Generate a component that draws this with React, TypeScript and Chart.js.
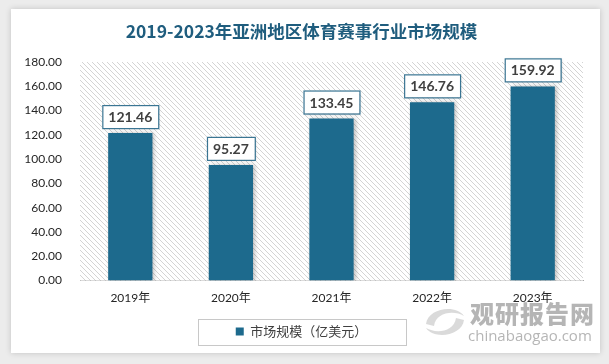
import React, { useEffect, useRef } from "react";
import { Chart, registerables } from "chart.js";

Chart.register(...registerables);

const chartTitle = "2019-2023年亚洲地区体育赛事行业市场规模";
const categories = ["2019年", "2020年", "2021年", "2022年", "2023年"];
const seriesLabel = "市场规模（亿美元）";
const marketSize = [121.46, 95.27, 133.45, 146.76, 159.92];
const yMin = 0;
const yMax = 180;
const yStep = 20;

const BAR_COLOR = "#1d6a8d";
const TITLE_COLOR = "#1f5d7e";
const TEXT_COLOR = "#404040";
const FONT = "Lato, 'Noto Sans CJK SC', sans-serif";

function makeHatch(): CanvasPattern | string {
  const c = document.createElement("canvas");
  const s = 5;
  c.width = s;
  c.height = s;
  const g = c.getContext("2d");
  if (!g) return "#f4f4f4";
  g.fillStyle = "#ffffff";
  g.fillRect(0, 0, s, s);
  g.strokeStyle = "#d4d4d4";
  g.lineWidth = 1;
  g.beginPath();
  g.moveTo(-1, -1);
  g.lineTo(s + 1, s + 1);
  g.moveTo(-1, s - 1);
  g.lineTo(1, s + 1);
  g.moveTo(s - 1, -1);
  g.lineTo(s + 1, 1);
  g.stroke();
  const p = g.createPattern(c, "repeat");
  return p || "#f4f4f4";
}

const hatchPlugin = {
  id: "hatchBg",
  beforeDatasetsDraw(chart: any) {
    const { ctx, chartArea } = chart;
    ctx.save();
    ctx.fillStyle = makeHatch();
    ctx.fillRect(chartArea.left, chartArea.top, chartArea.right - chartArea.left, chartArea.bottom - chartArea.top);
    ctx.restore();
  },
};

const barShadowPlugin = {
  id: "barShadow",
  beforeDatasetDraw(chart: any) {
    const ctx = chart.ctx;
    ctx.save();
    ctx.shadowColor = "rgba(0,0,0,0.25)";
    ctx.shadowBlur = 4;
    ctx.shadowOffsetX = 2;
    ctx.shadowOffsetY = 0;
  },
  afterDatasetDraw(chart: any) {
    chart.ctx.restore();
  },
};

const labelPlugin = {
  id: "valueLabels",
  afterDatasetsDraw(chart: any) {
    const { ctx } = chart;
    const meta = chart.getDatasetMeta(0);
    const data = chart.data.datasets[0].data as number[];
    ctx.save();
    ctx.font = "bold 14px " + FONT;
    meta.data.forEach((el: any, i: number) => {
      const txt = data[i].toFixed(2);
      const w = ctx.measureText(txt).width + 12;
      const h = 23;
      const x = el.x - w / 2;
      const y = el.y - 5 - h;
      ctx.save();
      ctx.shadowColor = "rgba(0,0,0,0.2)";
      ctx.shadowBlur = 3;
      ctx.shadowOffsetX = 1;
      ctx.shadowOffsetY = 1;
      ctx.fillStyle = "#ffffff";
      ctx.fillRect(x, y, w, h);
      ctx.restore();
      ctx.strokeStyle = "#3a7593";
      ctx.lineWidth = 1.2;
      ctx.strokeRect(x + 0.5, y + 0.5, w, h);
      ctx.fillStyle = TEXT_COLOR;
      ctx.textAlign = "center";
      ctx.textBaseline = "middle";
      ctx.fillText(txt, el.x, y + h / 2 + 1);
    });
    ctx.restore();
  },
};

const legendBoxPlugin = {
  id: "legendBox",
  afterDraw(chart: any) {
    const lg = chart.legend;
    if (!lg || !lg.legendHitBoxes || !lg.legendHitBoxes.length) return;
    const hb = lg.legendHitBoxes[0];
    const { ctx } = chart;
    ctx.save();
    ctx.strokeStyle = "#c8c8c8";
    ctx.lineWidth = 1;
    const padX = 38;
    const cy = hb.top + hb.height / 2;
    ctx.strokeRect(Math.round(hb.left - padX) + 0.5, Math.round(cy - 13) + 0.5, Math.round(hb.width + padX * 2), 26);
    ctx.restore();
  },
};

function ChartCanvas() {
  const ref = useRef<HTMLCanvasElement | null>(null);
  useEffect(() => {
    if (!ref.current) return;
    const chart = new Chart(ref.current, {
      type: "bar",
      data: {
        labels: categories,
        datasets: [
          {
            label: seriesLabel,
            data: marketSize,
            backgroundColor: BAR_COLOR,
            borderWidth: 0,
            barPercentage: 0.44,
            categoryPercentage: 1,
          },
        ],
      },
      options: {
        responsive: false,
        animation: false,
        devicePixelRatio: 1,
        layout: { padding: { left: 20, right: 26, top: 0, bottom: 16 } },
        plugins: {
          title: {
            display: true,
            text: chartTitle,
            color: TITLE_COLOR,
            font: { family: "'Noto Sans CJK SC', sans-serif", size: 17.5, weight: "bold" },
            padding: { top: 21, bottom: 20 },
          },
          legend: {
            display: true,
            position: "bottom",
            labels: {
              color: TEXT_COLOR,
              font: { family: FONT, size: 13 },
              boxWidth: 8,
              boxHeight: 8,
              padding: 10,
            },
          },
          tooltip: { enabled: false },
        },
        scales: {
          x: {
            grid: { display: false, drawTicks: false },
            border: { display: true, color: "#a6a6a6", width: 1 },
            ticks: { color: "#262626", font: { family: FONT, size: 12 }, padding: 10 },
          },
          y: {
            min: yMin,
            max: yMax,
            grid: { display: false, drawTicks: false },
            border: { display: false },
            afterFit(scale: any) {
              scale.width = 60;
            },
            ticks: {
              stepSize: yStep,
              color: "#262626",
              font: { family: FONT, size: 12 },
              padding: 18,
              callback: (v: any) => Number(v).toFixed(2),
            },
          },
        },
      },
      plugins: [hatchPlugin, barShadowPlugin, labelPlugin, legendBoxPlugin],
    } as any);
    return () => chart.destroy();
  }, []);
  return <canvas ref={ref} width={609} height={364} style={{ position: "absolute", left: 0, top: 0, width: 609, height: 364 }} />;
}

export default function App() {
  useEffect(() => {
    document.body.style.margin = "0";
  }, []);
  return (
    <div style={{ position: "relative", width: 609, height: 364, background: "#ececec", overflow: "hidden" }}>
      <div
        style={{
          position: "absolute",
          left: 11,
          top: 9,
          width: 589,
          height: 344,
          background: "#ffffff",
          boxShadow: "0 0 6px rgba(0,0,0,0.18)",
        }}
      />
      <ChartCanvas />
      <svg width={50} height={40} style={{ position: "absolute", left: 420, top: 302 }} viewBox="0 0 50 40">
        <path d="M6 22 C 8 6, 36 2, 44 14 C 34 8, 16 10, 14 24 Z" fill="rgba(150,150,150,0.35)" />
        <path d="M44 18 C 42 34, 14 38, 6 26 C 16 32, 34 30, 36 16 Z" fill="rgba(150,150,150,0.35)" />
      </svg>
      <div
        style={{
          position: "absolute",
          left: 470,
          top: 300,
          fontFamily: "'Noto Sans CJK SC', sans-serif",
          fontWeight: 900,
          fontSize: 24,
          color: "rgba(120,120,120,0.55)",
          letterSpacing: 1,
          lineHeight: "26px",
        }}
      >
        观研报告网
      </div>
      <div
        style={{
          position: "absolute",
          left: 468,
          top: 327,
          fontFamily: "'Open Sans', sans-serif",
          fontSize: 15,
          color: "rgba(120,120,120,0.55)",
          lineHeight: "16px",
        }}
      >
        chinabaogao.com
      </div>
    </div>
  );
}
